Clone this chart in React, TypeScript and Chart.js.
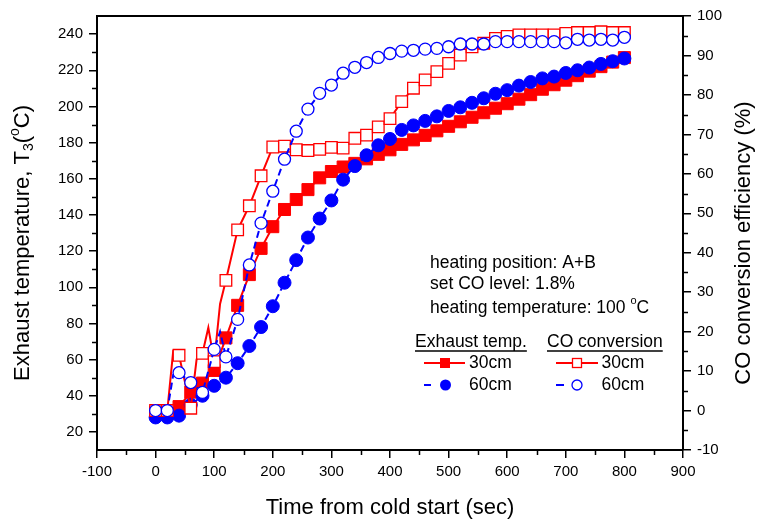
import React, { useEffect, useRef } from 'react';
import { Chart, registerables } from 'chart.js';

Chart.register(...registerables);

// ---------------- data ----------------
const exhaustTimes = [0, 20, 40, 60, 80, 100, 120, 140, 160, 180, 200, 220, 240, 260, 280, 300, 320, 340, 360, 380, 400, 420, 440, 460, 480, 500, 520, 540, 560, 580, 600, 620, 640, 660, 680, 700, 720, 740, 760, 780, 800];
const exhaust30 = [31, 31, 34, 42, 47, 54, 72, 90, 107, 121.5, 133.5, 143, 148.5, 154, 160.5, 164, 166.5, 168.5, 171, 173.5, 176, 179, 181.5, 184, 186.5, 189, 191.5, 194, 196.5, 199, 201.5, 204, 206.5, 209.5, 212, 214.5, 217, 219.5, 222, 224.5, 227];
const exhaust60 = [28, 28, 29, 35, 40, 45.5, 50, 58, 67.5, 78, 89.5, 102.5, 115, 127.5, 138, 148, 159.5, 167, 173, 178.5, 182, 187, 189.5, 192, 194.5, 197.5, 199.5, 202, 204.5, 207, 209, 211.5, 213.5, 215.5, 216.5, 218.5, 220, 221.5, 223.5, 225, 226.5];

const co30Times = [0, 20, 30, 40, 60, 70, 80, 90, 100, 110, 120, 140, 160, 180, 200, 220, 240, 260, 280, 300, 320, 340, 360, 380, 400, 420, 440, 460, 480, 500, 520, 540, 560, 580, 600, 620, 640, 660, 680, 700, 720, 740, 760, 780, 800];
const co30 = [0, 0, 15, 14, 0.6, 13, 14.5, 21, 12.4, 27, 33, 45.8, 51.9, 59.5, 66.8, 67, 66.1, 65.9, 66.2, 66.7, 66.5, 69, 69.8, 71.9, 74, 78.3, 81.7, 83.8, 85.9, 88, 90.1, 92.2, 93.1, 94.3, 94.8, 95.2, 95.2, 95.2, 95.2, 95.6, 95.8, 95.8, 96, 95.8, 95.8];

const co60Times = [0, 20, 30, 40, 60, 80, 100, 110, 120, 140, 160, 180, 200, 220, 240, 260, 280, 300, 320, 340, 360, 380, 400, 420, 440, 460, 480, 500, 520, 540, 560, 580, 600, 620, 640, 660, 680, 700, 720, 740, 760, 780, 800];
const co60 = [0, 0, 9, 9.6, 7.1, 4.6, 15.5, 20, 13.6, 23.1, 36.9, 47.5, 55.6, 63.7, 70.8, 76.4, 80.4, 82.5, 85.5, 87, 88.2, 89.5, 90.5, 91.1, 91.3, 91.6, 91.8, 92.2, 92.9, 92.9, 92.9, 93.5, 93.5, 93.5, 93.5, 93.5, 93.5, 93.2, 94.1, 93.9, 94.1, 93.9, 94.6];

const xTicks = [-100, 0, 100, 200, 300, 400, 500, 600, 700, 800, 900];
const xMinorTicks = [-50, 50, 150, 250, 350, 450, 550, 650, 750, 850];
const leftTicks = [20, 40, 60, 80, 100, 120, 140, 160, 180, 200, 220, 240];
const leftMinorTicks = [30, 50, 70, 90, 110, 130, 150, 170, 190, 210, 230];
const rightTicks = [-10, 0, 10, 20, 30, 40, 50, 60, 70, 80, 90, 100];
const rightMinorTicks = [-5, 5, 15, 25, 35, 45, 55, 65, 75, 85, 95];

const annotationLines = ['heating position: A+B', 'set CO level: 1.8%', 'heating temperature: 100 '];
const legendHeaders = ['Exhaust temp.', 'CO conversion'];
const legendRows = ['30cm', '60cm'];

const FONT = '"Liberation Sans", Arial, Helvetica, sans-serif';
const RED = '#ff0000';
const BLUE = '#0000ff';

export default function App() {
  const ref = useRef<HTMLCanvasElement>(null);

  useEffect(() => {
    document.body.style.margin = '0';
    const canvas = ref.current as HTMLCanvasElement;
    const toXY = (xs: number[], ys: number[]) => xs.map((x, i) => ({ x, y: ys[i] }));
    const every20 = (r: number) => (ctx: any) => {
      const raw = ctx.raw;
      return raw && raw.x % 20 === 0 ? r : 0;
    };

    const decor = {
      id: 'decor',
      afterDraw(chart: any) {
        const ctx = chart.ctx as CanvasRenderingContext2D;
        const { left, right, top, bottom } = chart.chartArea;
        const sx = chart.scales.x;
        const sl = chart.scales.yL;
        const sr = chart.scales.yR;
        ctx.save();
        ctx.strokeStyle = '#000';
        ctx.fillStyle = '#000';
        // top frame
        ctx.lineWidth = 2;
        ctx.beginPath();
        ctx.moveTo(left - 1, top);
        ctx.lineTo(right + 1, top);
        ctx.stroke();
        // minor ticks
        ctx.lineWidth = 1.5;
        ctx.beginPath();
        xMinorTicks.forEach((v) => {
          const px = Math.round(sx.getPixelForValue(v)) + 0.5;
          ctx.moveTo(px, bottom);
          ctx.lineTo(px, bottom + 5);
        });
        leftMinorTicks.forEach((v) => {
          const py = Math.round(sl.getPixelForValue(v)) + 0.5;
          ctx.moveTo(left, py);
          ctx.lineTo(left - 5, py);
        });
        rightMinorTicks.forEach((v) => {
          const py = Math.round(sr.getPixelForValue(v)) + 0.5;
          ctx.moveTo(right, py);
          ctx.lineTo(right + 5, py);
        });
        ctx.stroke();

        // axis titles
        ctx.textBaseline = 'middle';
        ctx.textAlign = 'center';
        ctx.font = `22px ${FONT}`;
        ctx.fillText('Time from cold start (sec)', (left + right) / 2, 508);

        // left title with sub/superscript
        const big = `22px ${FONT}`;
        const small = `14px ${FONT}`;
        const parts: [string, string, number][] = [
          ['Exhaust temperature, T', big, 0],
          ['3', small, 6],
          ['(', big, 0],
          ['o', small, -8],
          ['C)', big, 0],
        ];
        let total = 0;
        parts.forEach(([t, f]) => {
          ctx.font = f;
          total += ctx.measureText(t).width;
        });
        ctx.save();
        ctx.translate(23, 243);
        ctx.rotate(-Math.PI / 2);
        ctx.textAlign = 'left';
        let cx = -total / 2;
        parts.forEach(([t, f, dy]) => {
          ctx.font = f;
          ctx.fillText(t, cx, dy);
          cx += ctx.measureText(t).width;
        });
        ctx.restore();

        ctx.save();
        ctx.translate(744, 243);
        ctx.rotate(-Math.PI / 2);
        ctx.textAlign = 'center';
        ctx.font = big;
        ctx.fillText('CO conversion efficiency (%)', 0, 0);
        ctx.restore();

        // annotation
        ctx.textAlign = 'left';
        ctx.font = `17.5px ${FONT}`;
        const ay = [263, 284, 308];
        annotationLines.forEach((t, i) => ctx.fillText(t, 430, ay[i]));
        const w3 = ctx.measureText(annotationLines[2]).width;
        ctx.font = `11px ${FONT}`;
        ctx.fillText('o', 430 + w3, 301);
        const wo = ctx.measureText('o').width;
        ctx.font = `17.5px ${FONT}`;
        ctx.fillText('C', 430 + w3 + wo, 308);

        // legend headers
        const hx = [415, 547];
        legendHeaders.forEach((t, i) => {
          ctx.fillText(t, hx[i], 342);
          const w = ctx.measureText(t).width;
          ctx.lineWidth = 1.5;
          ctx.beginPath();
          ctx.moveTo(hx[i], 351);
          ctx.lineTo(hx[i] + w, 351);
          ctx.stroke();
        });
        const ry = [363, 385];
        legendRows.forEach((t, i) => {
          ctx.fillText(t, 469, ry[i]);
          ctx.fillText(t, 601.5, ry[i]);
        });
        // legend icons
        ctx.lineWidth = 2;
        // exhaust 30
        ctx.strokeStyle = RED;
        ctx.beginPath();
        ctx.moveTo(424, ry[0]);
        ctx.lineTo(465, ry[0]);
        ctx.stroke();
        ctx.fillStyle = RED;
        ctx.fillRect(440, ry[0] - 5, 10, 10);
        // exhaust 60
        ctx.strokeStyle = BLUE;
        ctx.beginPath();
        ctx.moveTo(424, ry[1]);
        ctx.lineTo(431, ry[1]);
        ctx.stroke();
        ctx.fillStyle = BLUE;
        ctx.beginPath();
        ctx.arc(445.5, ry[1], 5.5, 0, Math.PI * 2);
        ctx.fill();
        // co 30
        ctx.strokeStyle = RED;
        ctx.beginPath();
        ctx.moveTo(556, ry[0]);
        ctx.lineTo(598, ry[0]);
        ctx.stroke();
        ctx.fillStyle = '#fff';
        ctx.lineWidth = 1.3;
        ctx.fillRect(572.5, ry[0] - 4.5, 9, 9);
        ctx.strokeRect(572.5, ry[0] - 4.5, 9, 9);
        // co 60
        ctx.lineWidth = 2;
        ctx.strokeStyle = BLUE;
        ctx.beginPath();
        ctx.moveTo(556, ry[1]);
        ctx.lineTo(564, ry[1]);
        ctx.stroke();
        ctx.lineWidth = 1.3;
        ctx.beginPath();
        ctx.arc(577, ry[1], 5, 0, Math.PI * 2);
        ctx.fill();
        ctx.stroke();
        ctx.restore();
      },
    };

    const tickFont = { family: FONT, size: 15 };
    const gridOpts = {
      display: true,
      drawOnChartArea: false,
      drawTicks: true,
      tickLength: 8,
      tickColor: '#000',
      tickWidth: 1.5,
      color: '#000',
      lineWidth: 1.5,
    };
    const borderOpts = { display: true, color: '#000', width: 2 };

    const chart = new Chart(canvas, {
      type: 'line',
      data: {
        datasets: [
          {
            label: 'CO conversion 60cm',
            data: toXY(co60Times, co60),
            yAxisID: 'yR',
            borderColor: BLUE,
            borderWidth: 2,
            borderDash: [7, 4],
            pointStyle: 'circle',
            pointRadius: every20(6),
            pointBackgroundColor: '#fff',
            pointBorderColor: BLUE,
            pointBorderWidth: 1.3,
            tension: 0,
          },
          {
            label: 'CO conversion 30cm',
            data: toXY(co30Times, co30),
            yAxisID: 'yR',
            borderColor: RED,
            borderWidth: 2,
            pointStyle: 'rect',
            pointRadius: every20(8.2),
            pointBackgroundColor: '#fff',
            pointBorderColor: RED,
            pointBorderWidth: 1.3,
            tension: 0,
          },
          {
            label: 'Exhaust temp. 60cm',
            data: toXY(exhaustTimes, exhaust60),
            yAxisID: 'yL',
            borderColor: BLUE,
            borderWidth: 2,
            borderDash: [7, 4],
            pointStyle: 'circle',
            pointRadius: 6.5,
            pointBackgroundColor: BLUE,
            pointBorderColor: BLUE,
            pointBorderWidth: 1,
            tension: 0,
          },
          {
            label: 'Exhaust temp. 30cm',
            data: toXY(exhaustTimes, exhaust30),
            yAxisID: 'yL',
            borderColor: RED,
            borderWidth: 2,
            pointStyle: 'rect',
            pointRadius: 8.5,
            pointBackgroundColor: RED,
            pointBorderColor: RED,
            pointBorderWidth: 1,
            tension: 0,
          },
        ],
      },
      options: {
        responsive: false,
        animation: false,
        devicePixelRatio: 1,
        events: [],
        layout: { padding: { top: 16, left: 0, right: 0, bottom: 0 } },
        plugins: {
          legend: { display: false },
          tooltip: { enabled: false },
          title: { display: false },
        },
        scales: {
          x: {
            type: 'linear',
            position: 'bottom',
            min: -100,
            max: 900,
            afterBuildTicks: (s: any) => {
              s.ticks = xTicks.map((v) => ({ value: v }));
            },
            afterFit: (s: any) => {
              s.height = 73;
            },
            ticks: { color: '#000', font: tickFont, padding: 5, maxRotation: 0, autoSkip: false },
            grid: gridOpts,
            border: borderOpts,
          },
          yL: {
            type: 'linear',
            position: 'left',
            min: 10,
            max: 250,
            afterBuildTicks: (s: any) => {
              s.ticks = leftTicks.map((v) => ({ value: v }));
            },
            afterFit: (s: any) => {
              s.width = 97;
            },
            ticks: { color: '#000', font: tickFont, padding: 6, autoSkip: false },
            grid: gridOpts,
            border: borderOpts,
          },
          yR: {
            type: 'linear',
            position: 'right',
            min: -10,
            max: 100,
            afterBuildTicks: (s: any) => {
              s.ticks = rightTicks.map((v) => ({ value: v }));
            },
            afterFit: (s: any) => {
              s.width = 74;
            },
            ticks: { color: '#000', font: tickFont, padding: 6, autoSkip: false },
            grid: gridOpts,
            border: borderOpts,
          },
        },
      } as any,
      plugins: [decor],
    });
    return () => chart.destroy();
  }, []);

  return (
    <div style={{ width: 757, height: 523, background: '#fff' }}>
      <canvas ref={ref} width={757} height={523} style={{ display: 'block' }} />
    </div>
  );
}
